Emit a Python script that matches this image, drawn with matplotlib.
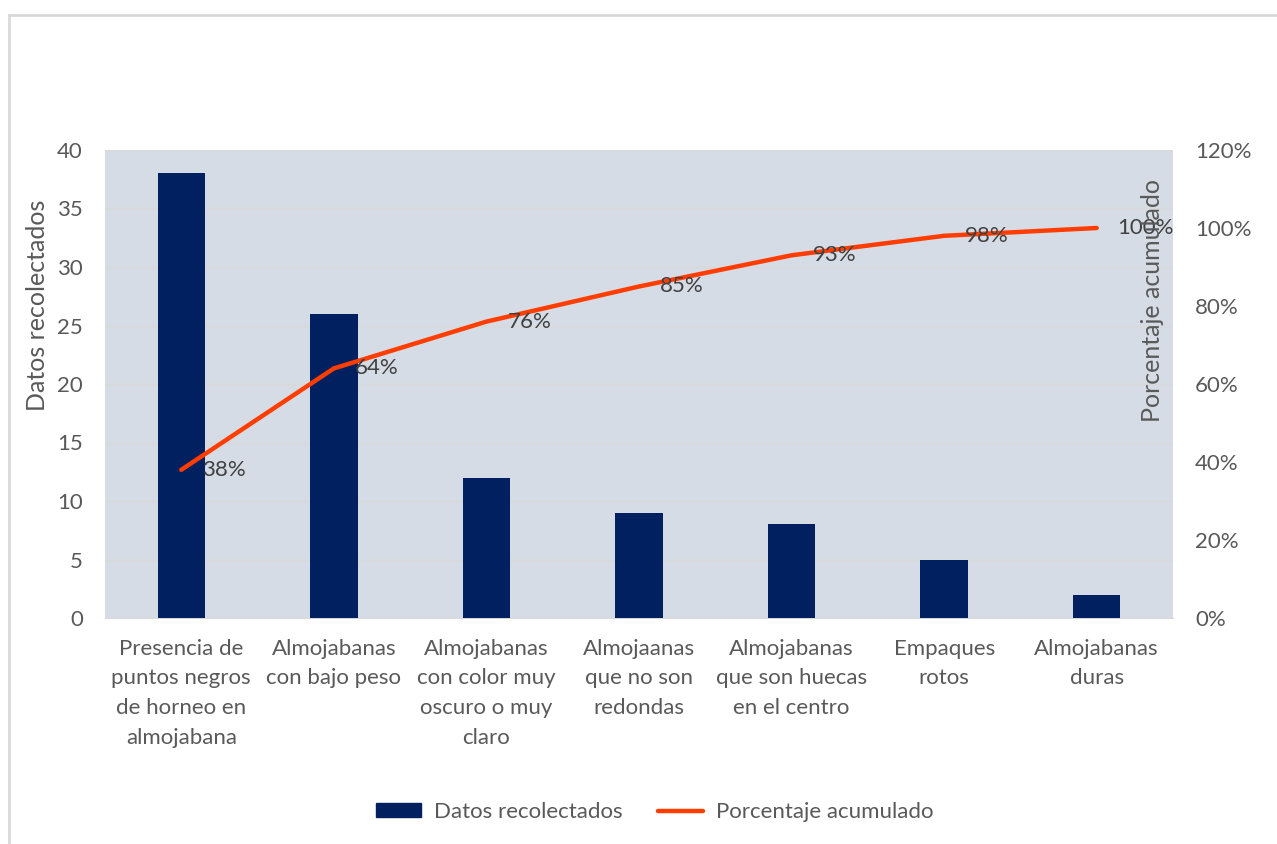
import numpy as np
import matplotlib.pyplot as plt
from matplotlib.lines import Line2D
from matplotlib.patches import Patch

categorias = ["Presencia de\npuntos negros\nde horneo en\nalmojabana",
              "Almojabanas\ncon bajo peso",
              "Almojabanas\ncon color muy\noscuro o muy\nclaro",
              "Almojaanas\nque no son\nredondas",
              "Almojabanas\nque son huecas\nen el centro",
              "Empaques\nrotos",
              "Almojabanas\nduras"]
datos = [38, 26, 12, 9, 8, 5, 2]
acumulado = [38, 64, 76, 85, 93, 98, 100]
etiquetas = ["38%", "64%", "76%", "85%", "93%", "98%", "100%"]

plt.rcParams['font.family'] = ['Lato', 'DejaVu Sans']
gris = '#595959'
fs = 16

fig = plt.figure(figsize=(12.77, 8.44), dpi=100)
# marco exterior
fig.add_artist(Line2D([0.007, 1.0], [1 - 15/844, 1 - 15/844], color='#D9D9D9', lw=2))
fig.add_artist(Line2D([0.007, 0.007], [0.0, 1 - 15/844], color='#D9D9D9', lw=2))

ax = fig.add_axes([105/1277, 1 - 618/844, 1068/1277, 468/844])
ax.set_facecolor('#D6DCE5')
x = np.arange(len(datos))
ax.bar(x, datos, width=0.31, color='#002060', zorder=3)
ax.set_xlim(-0.5, len(datos) - 0.5)
ax.set_ylim(0, 40)
ax.set_yticks(range(0, 41, 5))
ax.yaxis.grid(True, color='#D9D9D9', lw=1, zorder=0)
ax.set_axisbelow(True)
for s in ['top', 'right', 'left']:
    ax.spines[s].set_visible(False)
ax.spines['bottom'].set_color('#D9D9D9')
ax.set_xticks(x)
ax.set_xticklabels(categorias, fontsize=fs, color=gris, linespacing=1.6)
ax.tick_params(axis='both', length=0, labelsize=fs, labelcolor=gris)
ax.tick_params(axis='x', pad=15)
ax.tick_params(axis='y', pad=16)

ax2 = ax.twinx()
ax2.plot(x, acumulado, color='#FF3D00', lw=3.2, solid_capstyle='round', zorder=4)
ax2.set_ylim(0, 120)
ax2.set_yticks(range(0, 121, 20))
ax2.set_yticklabels([f"{v}%" for v in range(0, 121, 20)])
ax2.tick_params(axis='y', length=0, labelsize=fs, labelcolor=gris, pad=16)
for s in ax2.spines.values():
    s.set_visible(False)
for xi, yi, t in zip(x, acumulado, etiquetas):
    ax2.annotate(t, (xi, yi), xytext=(15, 0), textcoords='offset points',
                 ha='left', va='center', fontsize=fs, color='#404040', zorder=5)

fig.text(38/1277, 1 - 305/844, "Datos recolectados", rotation=90, ha='center', va='center',
         fontsize=18, color=gris)
fig.text(1152/1277, 1 - 300/844, "Porcentaje acumulado", rotation=90, ha='center', va='center',
         fontsize=18, color=gris)

handles = [Patch(color='#002060'),
           Line2D([0], [0], color='#FF3D00', lw=3.2, solid_capstyle='round')]
fig.legend(handles, ["Datos recolectados", "Porcentaje acumulado"], loc='center',
           bbox_to_anchor=(0.513, 1 - 812/844), ncol=2, frameon=False, fontsize=fs,
           labelcolor=gris, handlelength=2.0, handletextpad=0.6, columnspacing=1.6,
           handleheight=0.55)

fig.savefig('out.png', dpi=100)
